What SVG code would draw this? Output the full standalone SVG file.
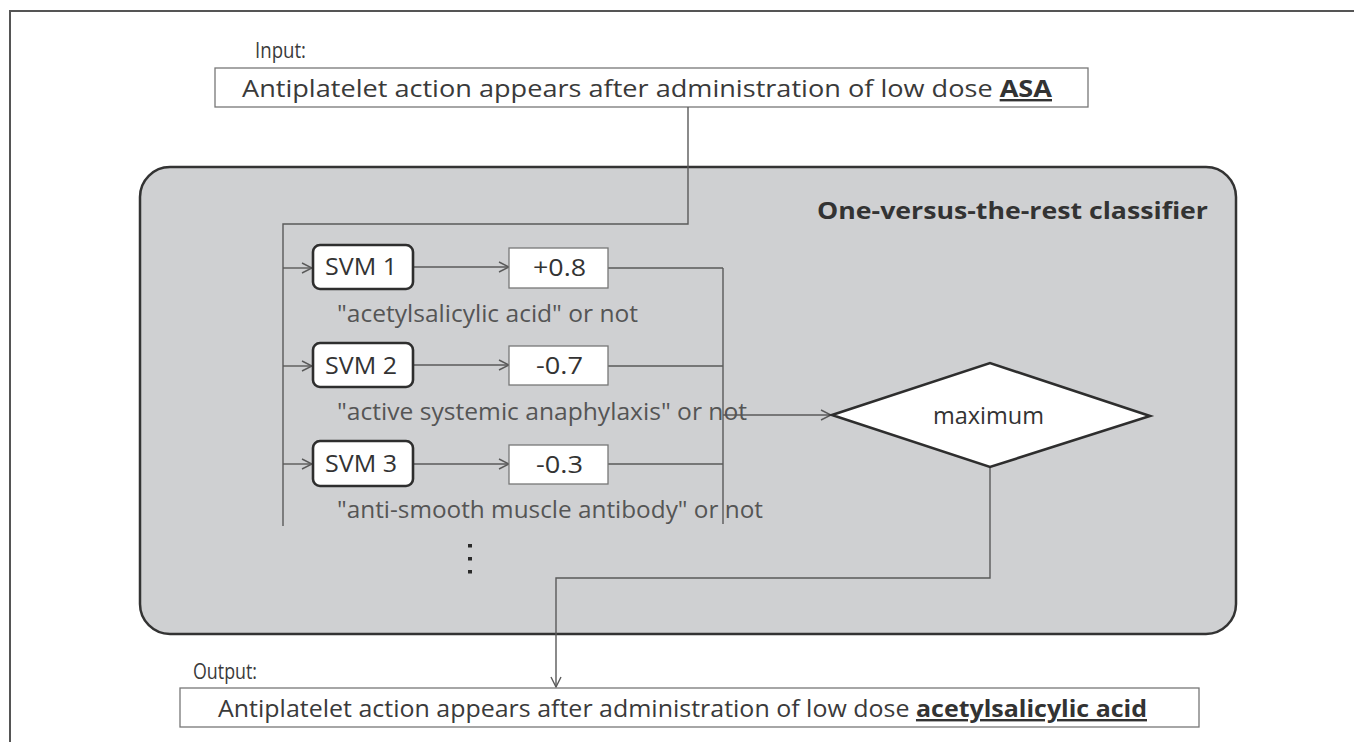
<svg xmlns="http://www.w3.org/2000/svg" width="1354" height="742" viewBox="0 0 1354 742">
<style>
text{font-family:"Open Sans","DejaVu Sans",sans-serif;fill:#3a3a3a}
.main{font-size:24px}
.lbl{font-size:24px;fill:#555}
.svm{font-size:24px;fill:#333}
.bold{font-weight:bold;fill:#333}
.conn{fill:none;stroke:#5a5a5a;stroke-width:1.4}
.thin{fill:#fff;stroke:#777;stroke-width:1.3}
.thick{fill:#fff;stroke:#2e2e2e;stroke-width:2.6}
</style>
<defs>
<marker id="arr" viewBox="0 0 12 12" refX="11" refY="6" markerWidth="12" markerHeight="12" markerUnits="userSpaceOnUse" orient="auto">
<path d="M1,1 L11,6 L1,11" fill="none" stroke="#5a5a5a" stroke-width="1.4"/>
</marker>
</defs>
<rect width="1354" height="742" fill="#fff"/>
<path d="M10,742 V11 H1354" fill="none" stroke="#555" stroke-width="2"/>

<g id="classifier">
<rect x="140" y="167" width="1096" height="467" rx="30" fill="#cfd0d2" stroke="#333" stroke-width="2.5"/>
<text x="817" y="219" class="bold" font-size="23" textLength="391" lengthAdjust="spacingAndGlyphs">One-versus-the-rest classifier</text>
</g>

<g id="input">
<text x="255" y="58" font-size="22" textLength="51" lengthAdjust="spacingAndGlyphs">Input:</text>
<rect x="215" y="68" width="873" height="39" class="thin"/>
<text x="242" y="97" class="main" textLength="810" lengthAdjust="spacingAndGlyphs">Antiplatelet action appears after administration of low dose <tspan class="bold" text-decoration="underline">ASA</tspan></text>
</g>

<g id="connectors">
<path class="conn" d="M688,107 V224 H283 V526"/>
<path class="conn" d="M283,268 H312" marker-end="url(#arr)"/>
<path class="conn" d="M283,366 H312" marker-end="url(#arr)"/>
<path class="conn" d="M283,464 H312" marker-end="url(#arr)"/>
<path class="conn" d="M413,267 H509" marker-end="url(#arr)"/>
<path class="conn" d="M413,365 H509" marker-end="url(#arr)"/>
<path class="conn" d="M413,464 H509" marker-end="url(#arr)"/>
<path class="conn" d="M608,268 H723 M608,366 H723 M608,464 H723 M723,268 V524"/>
<path class="conn" d="M723,415 H831" marker-end="url(#arr)"/>
<path class="conn" d="M990,467 V578 H556 V687" marker-end="url(#arr)"/>
</g>

<g id="svm1">
<rect x="313" y="245" width="100" height="44" rx="7" class="thick"/>
<text x="325" y="275" class="svm" textLength="72" lengthAdjust="spacingAndGlyphs">SVM 1</text>
</g>
<g id="svm2">
<rect x="313" y="343" width="100" height="44" rx="7" class="thick"/>
<text x="325" y="374" class="svm" textLength="72" lengthAdjust="spacingAndGlyphs">SVM 2</text>
</g>
<g id="svm3">
<rect x="313" y="441" width="100" height="45" rx="7" class="thick"/>
<text x="325" y="472" class="svm" textLength="72" lengthAdjust="spacingAndGlyphs">SVM 3</text>
</g>

<g id="val1">
<rect x="509" y="248" width="99" height="40" class="thin"/>
<text x="533" y="276" class="svm" textLength="53" lengthAdjust="spacingAndGlyphs">+0.8</text>
</g>
<g id="val2">
<rect x="509" y="346" width="99" height="39" class="thin"/>
<text x="536" y="374" class="svm" textLength="47" lengthAdjust="spacingAndGlyphs">-0.7</text>
</g>
<g id="val3">
<rect x="509" y="445" width="99" height="39" class="thin"/>
<text x="536" y="473" class="svm" textLength="47" lengthAdjust="spacingAndGlyphs">-0.3</text>
</g>

<g id="labels">
<text x="337" y="322" class="lbl" textLength="301" lengthAdjust="spacingAndGlyphs">"acetylsalicylic acid" or not</text>
<text x="337" y="420" class="lbl" textLength="410" lengthAdjust="spacingAndGlyphs">"active systemic anaphylaxis" or not</text>
<text x="337" y="518" class="lbl" textLength="426" lengthAdjust="spacingAndGlyphs">"anti-smooth muscle antibody" or not</text>
</g>

<g id="dots" fill="#2a2a2a">
<rect x="468" y="544" width="4" height="3.5"/>
<rect x="468" y="557" width="4" height="3.5"/>
<rect x="468" y="570" width="4" height="3.5"/>
</g>

<g id="maximum">
<polygon points="832,415 990,363 1150,416 990,467" fill="#fff" stroke="#2e2e2e" stroke-width="2.6" stroke-linejoin="miter"/>
<text x="933" y="424" class="svm" fill="#444" textLength="111" lengthAdjust="spacingAndGlyphs">maximum</text>
</g>

<g id="output">
<text x="193" y="679" font-size="22" textLength="64" lengthAdjust="spacingAndGlyphs">Output:</text>
<rect x="180" y="688" width="1019" height="39" class="thin"/>
<text x="218" y="717" class="main" textLength="929" lengthAdjust="spacingAndGlyphs">Antiplatelet action appears after administration of low dose <tspan class="bold" text-decoration="underline">acetylsalicylic acid</tspan></text>
</g>
</svg>
